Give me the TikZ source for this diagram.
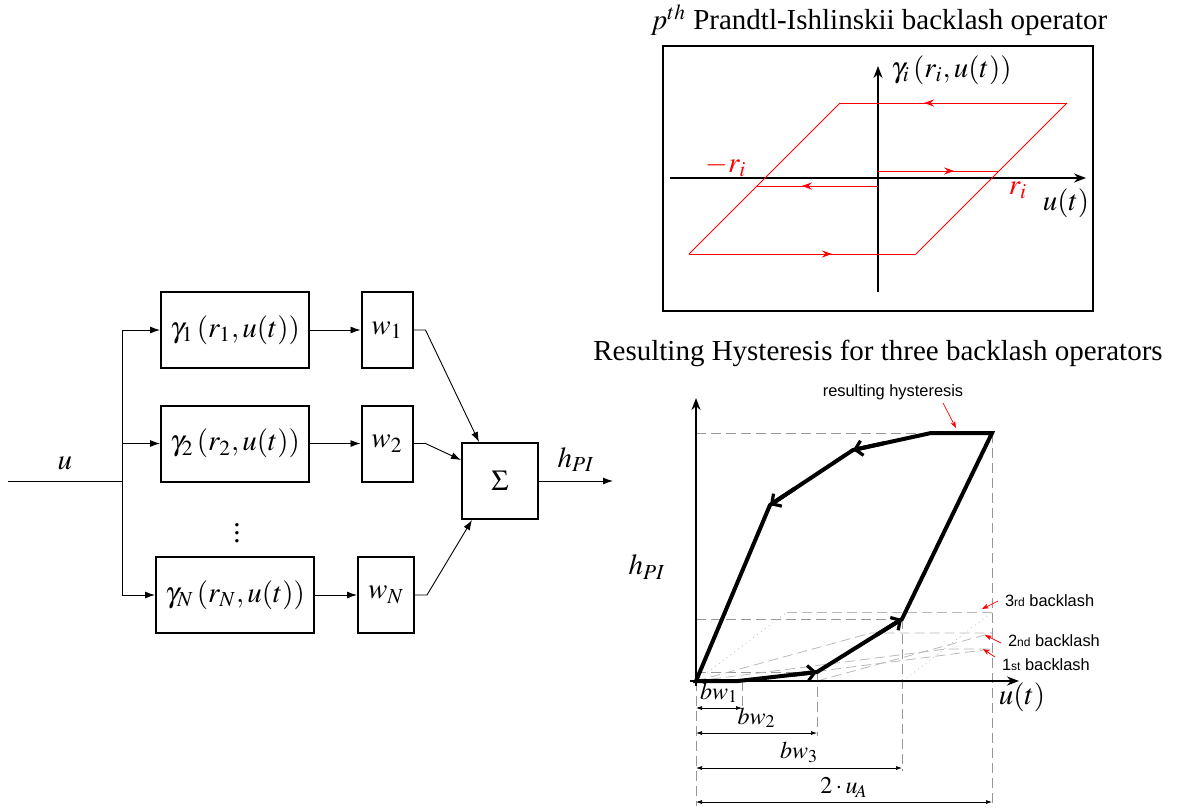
\documentclass[tikz,border=0pt]{standalone}
\usepackage{mathptmx}
\usepackage{fontspec}
\setmainfont{Liberation Serif}
\newfontfamily\arialfont{Liberation Sans}
\usetikzlibrary{arrows.meta,decorations.markings,calc}
\definecolor{loopred}{RGB}{255,0,0}
\definecolor{helpgray}{RGB}{150,150,150}
\definecolor{lightgray}{RGB}{185,185,185}

\tikzset{
  blk/.style={draw, line width=1pt, inner sep=0pt, minimum height=38pt},
  sig/.style={-{Latex[length=5pt,width=3.5pt]}, line width=0.45pt},
  axis/.style={-{Stealth[length=6pt,width=4.5pt]}, line width=0.9pt},
  redarrow/.style={loopred, line width=0.5pt, postaction={decorate},
    decoration={markings, mark=at position 0.63 with {\arrow{Stealth[length=5pt,width=3.5pt]}}}},
  hyst/.style={line width=2pt, line join=miter},
  barb/.style={line width=2pt, -{Straight Barb[length=3.5pt,width=7.5pt,line width=1.6pt]}},
  helpline/.style={helpgray, line width=0.4pt, dash pattern=on 5pt off 2.5pt},
  dotline/.style={lightgray, line width=0.4pt, dotted},
  dimline/.style={{Latex[length=3pt,width=2pt]}-{Latex[length=3pt,width=2pt]}, line width=0.35pt},
  note/.style={font=\arialfont\fontsize{8.2}{10}\selectfont},
  notearrow/.style={loopred, line width=0.35pt, -{Stealth[length=3.5pt,width=2.5pt]}}
}

\begin{document}
\begin{tikzpicture}[x=0.5pt, y=-0.5pt, font=\fontsize{14.5}{17}\selectfont]
  \useasboundingbox (0,0) rectangle (1182,809);

  % block diagram
  \coordinate (in) at (8,481);
  \coordinate (split) at (122,481);
  \node[blk, minimum width=74pt] (g1) at (235,330) {$\gamma_1\left(r_1,u(t)\right)$};
  \node[blk, minimum width=74pt] (g2) at (235,443.5) {$\gamma_2\left(r_2,u(t)\right)$};
  \node[blk, minimum width=79pt] (gN) at (235,595) {$\gamma_N\left(r_N,u(t)\right)$};
  \node[blk, minimum width=25.5pt] (w1) at (387,330) {$w_1$};
  \node[blk, minimum width=25.5pt] (w2) at (387,443.5) {$w_2$};
  \node[blk, minimum width=28pt] (wN) at (386,595) {$w_N$};
  \node[blk, minimum width=38pt] (sum) at (500,481) {$\Sigma$};
  \node (dots) at (237,527) {$\vdots$};
  \coordinate (out) at (613,481);

  \draw[line width=0.45pt] (in) -- node[above=2pt] {$u$} (split);
  \draw[line width=0.45pt] (split |- g1.west) -- (split |- gN.west);
  \draw[sig] (split |- g1.west) -- (g1.west);
  \draw[sig] (split |- g2.west) -- (g2.west);
  \draw[sig] (split |- gN.west) -- (gN.west);
  \draw[sig] (g1) -- (w1);
  \draw[sig] (g2) -- (w2);
  \draw[sig] (gN) -- (wN);
  \draw[sig] (w1.east) -- ++(12,0) -- ([xshift=9pt]sum.north west);
  \draw[sig] (w2.east) -- ++(12,0) -- ([yshift=-9pt]sum.north west);
  \draw[sig] (wN.east) -- ++(12,0) -- ([xshift=5.5pt]sum.south west);
  \draw[sig] (sum) -- (out) node[pos=0.5, above=1pt] {$h_{PI}$};

  % p-th backlash operator
  \node (ttl1) at (879,20) {$p^{th}$ Prandtl-Ishlinskii backlash operator};
  \draw[line width=1.2pt] (663,46) rectangle (1093,311);
  \draw[axis] (878,292) -- (878,66);
  \node[anchor=west] (gi) at (884,70) {$\gamma_i\left(r_i,u(t)\right)$};
  \draw[axis] (670,178) -- (1086,178);
  \node (ut1) at (1066,203) {$u(t)$};
  \node[loopred] (mri) at (726,166) {$-r_i$};
  \node[loopred] (ri) at (1018,190) {$r_i$};
  \draw[redarrow] (1067,103) -- (840,103);
  \draw[loopred, line width=0.5pt] (840,103) -- (689,254);
  \draw[redarrow] (689,254) -- (916,254);
  \draw[loopred, line width=0.5pt] (916,254) -- (1067,103);
  \draw[redarrow] (878,171) -- (999,171);
  \draw[redarrow] (878,186) -- (757,186);

  % resulting hysteresis
  \node (ttl2) at (878,353) {Resulting Hysteresis for three backlash operators};
  \coordinate (o) at (696,681);
  \coordinate (ha) at (738,681);
  \coordinate (hb) at (817,672);
  \coordinate (hc) at (902,619);
  \coordinate (hd) at (992,433);
  \coordinate (he) at (931,433);
  \coordinate (hf) at (853,450);
  \coordinate (hg) at (770,505);

  \draw[helpline] (o |- hd) -- (hd);
  \draw[helpline] (o |- hc) -- (hc);
  \draw[helpline] (o |- hb) -- (hb);
  \draw[helpline] (o) -- (696,806);
  \draw[helpline] (742,681) -- (742,711);
  \draw[helpline] (hb) -- (817,736);
  \draw[helpline] (hc) -- (902,771);
  \draw[helpline] (hd) -- (992,806);

  % backlash operators
  \draw[dotline] (o) -- (787,612);
  \draw[helpline, lightgray] (787,612) -- (992,612);
  \draw[dotline] (903,681) -- (992,612);
  \draw[helpline, lightgray] (o) -- (871,633) -- (992,633);
  \draw[helpline, lightgray] (817,681) -- (992,633);
  \draw[helpline, lightgray] (o) -- (946,649) -- (992,649);
  \draw[helpline, lightgray] (742,681) -- (992,649);

  \draw[axis] (696,686) -- (696,398);
  \draw[axis] (690,681) -- (1019,681);
  \node (ut2) at (1022,697) {$u(t)$};
  \node (hpi) at (647,567) {$h_{PI}$};

  \draw[hyst] (o) -- (ha) -- (hb) -- (hc) -- (hd) -- (he) -- (hf) -- (hg) -- cycle;
  \draw[barb] ($(ha)!0.7!(hb)$) -- (hb);
  \draw[barb] ($(hb)!0.7!(hc)$) -- (hc);
  \draw[barb] ($(he)!0.6!(hf)$) -- (hf);
  \draw[barb] ($(hf)!0.7!(hg)$) -- (hg);

  \draw[dimline] (696,708) -- node[above=-1pt, font=\fontsize{12}{14}\selectfont] (bw1) {$bw_1$} (742,708);
  \draw[dimline] (696,733) -- node[above=-1pt, font=\fontsize{12}{14}\selectfont] (bw2) {$bw_2$} (817,733);
  \draw[dimline] (696,768) -- node[above=-1pt, font=\fontsize{12}{14}\selectfont] (bw3) {$bw_3$} (902,768);
  \draw[dimline] (696,802) -- node[above=-1pt, font=\fontsize{12}{14}\selectfont] (ua) {$2\cdot u_{\!A}$} (992,802);

  \node[note] (rh) at (893,392) {resulting hysteresis};
  \node[note, anchor=west] (b3) at (998,601) {3{\fontsize{6}{7}\selectfont rd} backlash};
  \node[note, anchor=west] (b2) at (1001,641) {2{\fontsize{6}{7}\selectfont nd} backlash};
  \node[note, anchor=west] (b1) at (995,665) {1{\fontsize{6}{7}\selectfont st} backlash};
  \draw[notearrow] (943,403) -- (956,428);
  \draw[notearrow] (b3.west) -- (982,609);
  \draw[notearrow] ([yshift=-1pt]b2.west) -- (985,635);
  \draw[notearrow] ([yshift=4pt]b1.west) -- (983,649);
\end{tikzpicture}
\end{document}
